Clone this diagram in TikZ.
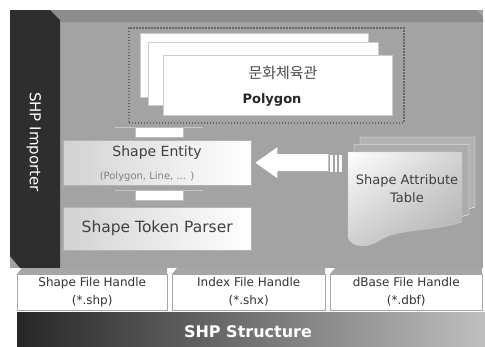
\documentclass[tikz,border=0pt]{standalone}
\usepackage{fontspec}
\setmainfont{DejaVu Sans}
\newfontfamily\kofont{Noto Sans CJK KR}
\usepackage{tikz}
\usetikzlibrary{positioning,shadings}

\begin{document}
\begin{tikzpicture}[x=1pt,y=-1pt,
    every node/.style={inner sep=0pt},
    layerbox/.style={draw=gray!60, left color=gray!35, right color=white, minimum width=188pt, anchor=north west},
    linkbar/.style={fill=white, draw=gray!50, minimum width=48pt, minimum height=10pt, anchor=north},
    handlebox/.style={fill=white, draw=gray!70, minimum width=150pt, minimum height=36pt, anchor=north west, align=center, text=black!80, font=\fontsize{12}{18}\selectfont},
    sheet/.style={fill=white, draw=gray!40}]
  \useasboundingbox (0,0) rectangle (485,346);
  % panel
  \fill[gray!72] (10,10) rectangle (483,268);
  \fill[gray!90] (10,10) -- (476,10) -- (483,17) -- (483,22) -- (10,22) -- cycle;
  \fill[black!82] (10,10) -- (50,10) -- (60,20) -- (60,268) -- (20,268) -- (10,256) -- cycle;
  \node[rotate=-90, text=white, font=\fontsize{15}{17}\selectfont] (importer) at (34,142) {SHP Importer};

  % polygon stack
  \node[draw=black!60, line width=1.6pt, dash pattern=on 1.6pt off 1.4pt, minimum width=275pt, minimum height=95pt, anchor=north west] (polyframe) at (128,27) {};
  \fill[sheet] (140,33) rectangle (368,97);
  \fill[sheet] (148,42) rectangle (378,105);
  \node[sheet, minimum width=229pt, minimum height=60pt, anchor=north west] (polygon) at (163,55) {};
  \node[font=\kofont\fontsize{15}{17}\selectfont, text=black!70] (korname) at (283,73) {문화체육관};
  \node[font=\fontsize{13}{15}\selectfont\bfseries, text=black!85] (polytag) at (272,100) {Polygon};

  % entity / parser
  \node[layerbox, minimum height=45pt] (entity) at (63,140) {};
  \node[font=\fontsize{14}{16}\selectfont, text=black!75] (entitylabel) at (157,153) {Shape Entity};
  \node[font=\fontsize{10}{12}\selectfont, text=black!50] (entitysub) at (147,177) {(Polygon, Line, ... )};
  \node[layerbox, minimum height=43pt, font=\fontsize{15.5}{17}\selectfont, text=black!75] (parser) at (63,207) {Shape Token Parser};

  \draw[gray!45, line width=1pt] (115,127) -- (203,127);
  \node[linkbar] (link1) at (159,127) {};
  \draw[gray!45, line width=1pt] (115,190) -- (203,190);
  \node[linkbar] (link2) at (159,190) {};

  % attribute table
  \foreach \dx/\dy/\c in {12/-15/gray!60, 6/-7.5/gray!65}
    \draw[draw=white, fill=\c, shift={(\dx,\dy)}] (348,152) -- (463,152) -- (463,222) .. controls (430,232) and (400,228) .. (380,240) .. controls (365,250) and (352,246) .. (348,238) -- cycle;
  \draw[draw=gray!40, upper left=white, lower right=gray!65, upper right=gray!35, lower left=gray!40] (348,152) -- (462,152) -- (462,222) .. controls (430,232) and (400,228) .. (380,240) .. controls (365,250) and (352,246) .. (348,238) -- cycle;
  \node[align=center, font=\fontsize{13}{18}\selectfont, text=black!75] (attrtable) at (407,189) {Shape Attribute\\Table};

  % arrow
  \coordinate (tip) at ([xshift=4pt]entity.east);
  \fill[white] (tip) -- ++(22,-15.5) -- ++(0,7) -- ++(51,0) -- ++(0,17) -- ++(-51,0) -- ++(0,7) -- cycle;
  \foreach \s in {330,334.5,339}
    \fill[white] (\s,155) rectangle +(2.5,17);

  % handles
  \foreach \x/\w/\txt [count=\i] in {17/150/{Shape File Handle\\(*.shp)}, 172/153/{Index File Handle\\(*.shx)}, 330/152/{dBase File Handle\\(*.dbf)}} {
    \fill[gray!70] (\x,274) -- (\x+5,268) -- (\x+\w,268) -- (\x+\w,274) -- cycle;
    \node[handlebox, minimum width=\w pt] (handle\i) at (\x,274) {\txt};
  }

  % structure
  \node[left color=black!85, right color=gray!50, minimum width=468pt, minimum height=34pt, anchor=north west] (structure) at (17,312) {};
  \node[text=white, font=\fontsize{16}{18}\selectfont\bfseries] (structlabel) at (248,332) {SHP Structure};
\end{tikzpicture}
\end{document}
